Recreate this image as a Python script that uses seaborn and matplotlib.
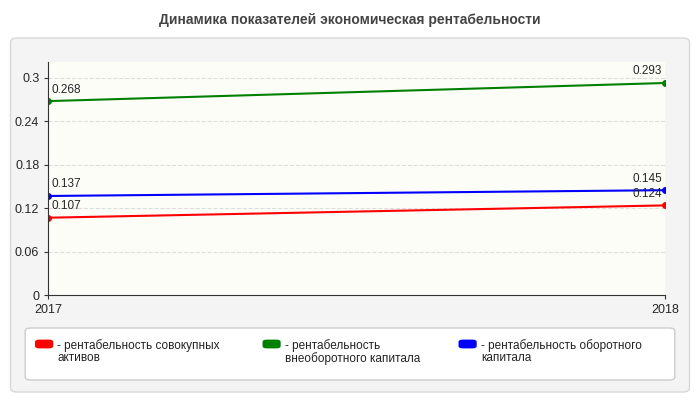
import matplotlib
matplotlib.use("Agg")
import matplotlib.pyplot as plt
from matplotlib.patches import FancyBboxPatch
import seaborn as sns
import pandas as pd

years = [2017, 2018]
series_names = ["- рентабельность совокупных\nактивов",
                "- рентабельность\nвнеоборотного капитала",
                "- рентабельность оборотного\nкапитала"]
assets = [0.107, 0.124]
noncurrent = [0.268, 0.293]
current = [0.137, 0.145]
colors = ["#ff0000", "#008000", "#0000ff"]

df = pd.DataFrame({
    "year": years * 3,
    "value": assets + noncurrent + current,
    "series": [series_names[0]] * 2 + [series_names[1]] * 2 + [series_names[2]] * 2,
})

sns.set_style("white")
plt.rcParams["font.family"] = ["Liberation Sans", "DejaVu Sans"]

fig = plt.figure(figsize=(7, 4), dpi=100)
fig.patch.set_facecolor("white")
# outer gray panel, behind the axes
panel = FancyBboxPatch((0.015, 0.02), 0.97, 0.885, boxstyle="round,pad=0,rounding_size=0.01",
                       transform=fig.transFigure, facecolor="#f4f4f4", edgecolor="#d8d8d8", lw=1,
                       zorder=-10)
fig.patches.append(panel)
fig.text(0.5, 0.95, "Динамика показателей экономическая рентабельности", ha="center", va="center",
         fontsize=10, fontweight="bold", color="#444444")

ax = fig.add_axes([0.069, 0.262, 0.881, 0.583])
ax.set_zorder(5)
ax.set_facecolor("#fdfdf8")
sns.lineplot(data=df, x="year", y="value", hue="series", palette=colors, marker="o",
             markersize=5, markeredgewidth=0, linewidth=1.5, ax=ax, legend=False)

for vals, col in zip([assets, noncurrent, current], colors):
    ax.annotate(f"{vals[0]:g}", (years[0], vals[0]), xytext=(2, 4), textcoords="offset points",
                fontsize=8.5, ha="left", va="bottom")
    ax.annotate(f"{vals[1]:g}", (years[1], vals[1]), xytext=(-2, 4), textcoords="offset points",
                fontsize=8.5, ha="right", va="bottom")

ax.set_xlim(2017, 2018)
ax.set_ylim(0, 0.322)
ax.set_xticks(years)
ax.set_xticklabels([str(y) for y in years], fontsize=9)
ax.set_yticks([0, 0.06, 0.12, 0.18, 0.24, 0.3])
ax.set_yticklabels(["0", "0.06", "0.12", "0.18", "0.24", "0.3"], fontsize=9)
ax.yaxis.grid(True, linestyle="--", color="#dddddd", lw=0.8)
ax.set_xlabel("")
ax.set_ylabel("")
for s in ["top", "right"]:
    ax.spines[s].set_visible(False)
for s in ["left", "bottom"]:
    ax.spines[s].set_color("#333333")
ax.tick_params(axis="both", length=3, color="#333333", direction="out", left=True, bottom=True)

# legend box
lbox = FancyBboxPatch((0.036, 0.05), 0.928, 0.13, boxstyle="round,pad=0,rounding_size=0.008",
                      transform=fig.transFigure, facecolor="white", edgecolor="#cccccc", lw=1)
fig.patches.append(lbox)
xs = [0.05, 0.375, 0.655]
for x, name, col in zip(xs, series_names, colors):
    fig.patches.append(FancyBboxPatch((x, 0.129), 0.026, 0.022, boxstyle="round,pad=0,rounding_size=0.006",
                                      transform=fig.transFigure, facecolor=col, edgecolor="none"))
    fig.text(x + 0.032, 0.153, name, fontsize=8.5, va="top", ha="left", color="#222222",
             linespacing=1.0)

fig.savefig("out.png", dpi=100)
plt.close(fig)
